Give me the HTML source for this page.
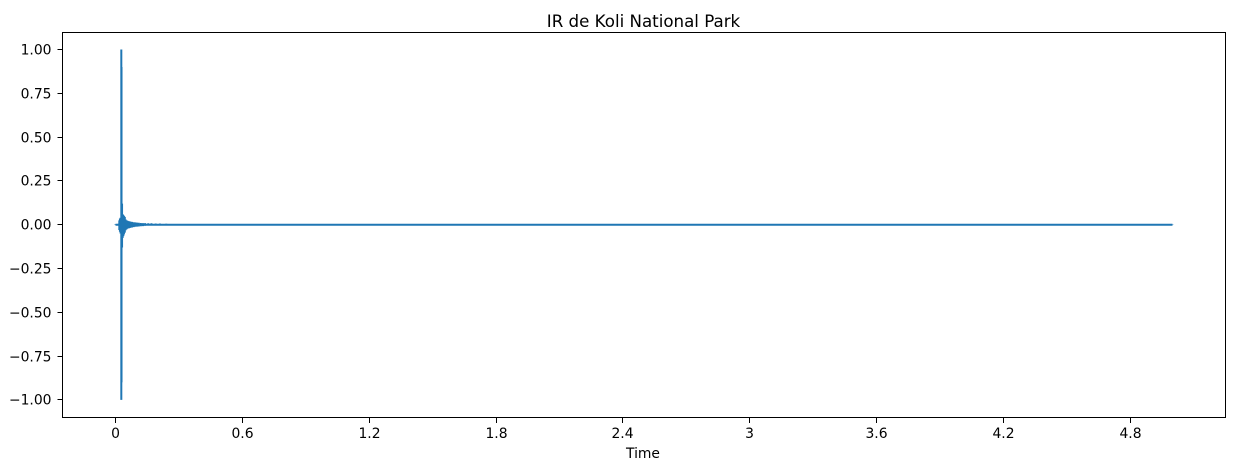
<!DOCTYPE html>
<html lang="en">
<head>
<meta charset="utf-8">
<title>IR de Koli National Park</title>
<style>
html,body{margin:0;padding:0;background:#fff;width:1234px;height:470px;overflow:hidden}
svg{display:block}
text{font-family:"DejaVu Sans",sans-serif;fill:#000}
</style>
</head>
<body>
<svg id="chart" xmlns="http://www.w3.org/2000/svg" width="1234" height="470" viewBox="0 0 1234 470">
<text x="643.5" y="27" text-anchor="middle" style="font-size:16.67px">IR de Koli National Park</text>
<g id="plot"></g>
<rect x="62.5" y="32.5" width="1163" height="385" fill="none" stroke="#000" stroke-width="1"/>
<g id="x-axis"></g>
<g id="y-axis"></g>
<text x="643" y="458" text-anchor="middle" style="font-size:13.89px">Time</text>
</svg>
<script>
const xTickValues = [0, 0.6, 1.2, 1.8, 2.4, 3, 3.6, 4.2, 4.8];
const xTickLabels = ['0', '0.6', '1.2', '1.8', '2.4', '3', '3.6', '4.2', '4.8'];
const yTickValues = [1, 0.75, 0.5, 0.25, 0, -0.25, -0.5, -0.75, -1];
const yTickLabels = ['1.00', '0.75', '0.50', '0.25', '0.00', '\u22120.25', '\u22120.50', '\u22120.75', '\u22121.00'];
const times = [0, 0.01, 0.015, 0.018, 0.021, 0.024, 0.0275, 0.0285, 0.031, 0.034, 0.037, 0.04, 0.044, 0.048, 0.053, 0.058, 0.064, 0.07, 0.078, 0.086, 0.094, 0.102, 0.11, 0.12, 0.13, 0.14, 0.155, 0.17, 0.19, 0.21, 0.24, 0.28, 0.34, 0.4, 0.6, 1, 2, 3, 4, 5];
const upperEnvelope = [0.002, 0.003, 0.006, 0.025, 0.035, 0.04, 1, 0.9, 0.12, 0.06, 0.055, 0.05, 0.045, 0.03, 0.025, 0.022, 0.02, 0.018, 0.016, 0.014, 0.013, 0.012, 0.011, 0.01, 0.009, 0.009, 0.008, 0.008, 0.007, 0.007, 0.006, 0.005, 0.005, 0.004, 0.002, 0.001, 0.001, 0.001, 0.001, 0.001];
const lowerEnvelope = [-0.002, -0.003, -0.006, -0.03, -0.04, -0.05, -1, -0.9, -0.13, -0.075, -0.065, -0.055, -0.045, -0.032, -0.026, -0.022, -0.02, -0.018, -0.016, -0.014, -0.012, -0.011, -0.01, -0.009, -0.008, -0.007, -0.006, -0.006, -0.005, -0.005, -0.004, -0.003, -0.002, -0.002, -0.001, -0.001, -0.001, -0.001, -0.001, -0.001];

const NS = 'http://www.w3.org/2000/svg';
const xScale = t => 115.5 + t * 211.4;
const yScale = v => 224.7 - v * 175.2;

const plot = document.getElementById('plot');
const xAxis = document.getElementById('x-axis');
const yAxis = document.getElementById('y-axis');

let d = '';
times.forEach((t, i) => {
  const x = xScale(t).toFixed(2);
  d += 'M' + x + ' ' + yScale(upperEnvelope[i]).toFixed(2) + 'L' + x + ' ' + yScale(lowerEnvelope[i]).toFixed(2);
});
d += 'M' + times.map(t => xScale(t).toFixed(2) + ' ' + yScale(0).toFixed(2)).join('L');
const wave = document.createElementNS(NS, 'path');


wave.setAttribute('d', d);
wave.setAttribute('fill', 'none');
wave.setAttribute('stroke', '#1f77b4');
wave.setAttribute('stroke-width', '2');
plot.appendChild(wave);

xTickValues.forEach((v, i) => {
  const x = Math.round(xScale(v) - 0.5) + 0.5;
  const tick = document.createElementNS(NS, 'line');
  
  
  tick.setAttribute('x1', x);
  tick.setAttribute('x2', x);
  tick.setAttribute('y1', 417.5);
  tick.setAttribute('y2', 423);
  tick.setAttribute('stroke', '#000');
  xAxis.appendChild(tick);
  const label = document.createElementNS(NS, 'text');
  
  
  label.setAttribute('x', x);
  label.setAttribute('y', 438);
  label.setAttribute('text-anchor', 'middle');
  label.style.fontSize = '13.89px';
  label.textContent = xTickLabels[i];
  xAxis.appendChild(label);
});

yTickValues.forEach((v, i) => {
  const y = Math.round(yScale(v) - 0.5) + 0.5;
  const tick = document.createElementNS(NS, 'line');
  
  
  tick.setAttribute('x1', 57.5);
  tick.setAttribute('x2', 62.5);
  tick.setAttribute('y1', y);
  tick.setAttribute('y2', y);
  tick.setAttribute('stroke', '#000');
  yAxis.appendChild(tick);
  const label = document.createElementNS(NS, 'text');
  
  
  label.setAttribute('x', 51.5);
  label.setAttribute('y', y + 5);
  label.setAttribute('text-anchor', 'end');
  label.style.fontSize = '13.89px';
  label.textContent = yTickLabels[i];
  yAxis.appendChild(label);
});
</script>
</body>
</html>
